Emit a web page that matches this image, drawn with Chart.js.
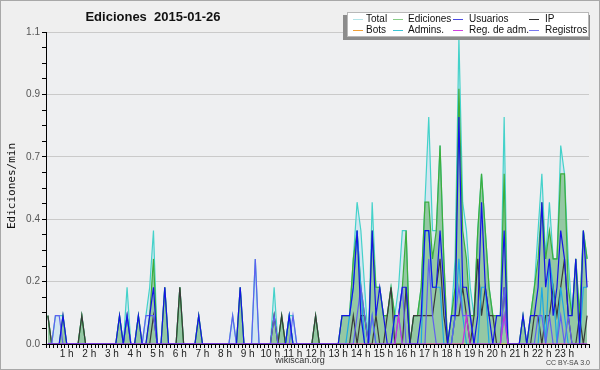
<!DOCTYPE html>
<html><head><meta charset="utf-8">
<script src="https://cdn.jsdelivr.net/npm/chart.js@4.4.1/dist/chart.umd.min.js"></script>
<style>html,body{margin:0;padding:0;background:#f0f0f0;overflow:hidden}</style>
</head><body>
<canvas id="c" width="600" height="370"></canvas>
<script>
// 10-minute bins (144 per day), values in edits/min
const hourLabels = ['1 h','2 h','3 h','4 h','5 h','6 h','7 h','8 h','9 h','10 h','11 h','12 h','13 h','14 h','15 h','16 h','17 h','18 h','19 h','20 h','21 h','22 h','23 h'];
const yTickLabels = ['0.0','0.2','0.4','0.7','0.9','1.1'];

const total = [
 0.1,0,0.1,0.1,0.1,0,0,0,0,0.1,0,0,
 0,0,0,0,0,0,0,0.1,0,0.2,0,0,
 0.1,0,0.1,0.2,0.4,0,0,0.2,0,0,0,0.2,
 0,0,0,0,0.1,0,0,0,0,0,0,0,
 0,0.1,0,0.2,0,0,0,0.3,0,0,0,0,
 0.2,0,0.1,0,0.1,0.1,0,0,0,0,0,0.1,
 0,0,0,0,0,0,0.1,0.1,0.1,0.3,0.5,0.4,
 0.2,0,0.5,0.2,0.2,0.1,0.1,0.2,0.1,0.2,0.4,0.4,
 0,0.1,0.1,0.2,0.5,0.8,0.4,0.4,0.7,0.3,0,0.1,
 0.3,1.08,0.5,0.4,0.2,0.1,0.4,0.6,0.4,0.2,0.1,0.1,
 0.1,0.8,0,0,0,0,0.1,0,0.1,0.2,0.4,0.6,
 0.3,0.5,0.3,0.3,0.7,0.6,0.3,0.1,0.3,0.1,0.4,0.3];
const ediciones = [
 0.1,0,0,0,0.1,0,0,0,0,0.1,0,0,
 0,0,0,0,0,0,0,0.1,0,0.1,0,0,
 0.1,0,0,0.1,0.3,0,0,0.2,0,0,0,0.2,
 0,0,0,0,0.1,0,0,0,0,0,0,0,
 0,0,0,0.2,0,0,0,0,0,0,0,0,
 0.1,0,0.1,0,0.1,0,0,0,0,0,0,0.1,
 0,0,0,0,0,0,0.1,0.1,0.1,0.3,0.4,0.2,
 0.1,0,0.4,0.2,0.2,0.1,0.1,0.2,0.1,0.1,0.2,0.4,
 0,0.1,0.1,0.2,0.5,0.5,0.3,0.4,0.7,0.3,0,0.1,
 0.2,0.9,0.4,0.3,0.1,0.1,0.4,0.6,0.4,0.2,0.1,0.1,
 0.1,0.6,0,0,0,0,0.1,0,0.1,0.2,0.3,0.5,
 0.3,0.4,0.3,0.3,0.6,0.6,0.2,0.1,0.3,0.1,0.4,0.3];
const usuarios = [
 0,0,0,0,0.1,0,0,0,0,0,0,0,
 0,0,0,0,0,0,0,0.1,0,0.1,0,0,
 0.1,0,0,0.1,0.2,0,0,0.2,0,0,0,0,
 0,0,0,0,0.1,0,0,0,0,0,0,0,
 0,0,0,0.2,0,0,0,0,0,0,0,0,
 0,0,0,0,0.1,0,0,0,0,0,0,0,
 0,0,0,0,0,0,0.1,0.1,0.1,0.2,0.4,0.1,
 0,0,0.4,0.1,0.2,0.1,0,0,0.1,0.1,0.2,0.2,
 0,0,0,0.1,0.4,0.4,0.2,0.2,0.4,0.2,0,0.1,
 0.1,0.8,0.2,0.2,0.1,0,0.1,0.5,0.2,0.1,0,0.1,
 0.1,0.4,0,0,0,0,0.1,0,0.1,0.1,0.2,0.5,
 0.2,0.3,0.1,0.2,0.4,0.3,0.1,0.1,0.3,0,0.4,0.2];
const ip = [
 0.1,0,0,0,0,0,0,0,0,0.1,0,0,
 0,0,0,0,0,0,0,0,0,0,0,0,
 0,0,0,0,0.1,0,0,0,0,0,0,0.2,
 0,0,0,0,0,0,0,0,0,0,0,0,
 0,0,0,0,0,0,0,0,0,0,0,0,
 0.1,0,0.1,0,0,0,0,0,0,0,0,0.1,
 0,0,0,0,0,0,0,0,0,0.1,0,0.1,
 0.1,0,0,0.1,0,0,0.1,0.2,0,0,0,0.2,
 0,0.1,0.1,0.1,0.1,0.1,0.1,0.2,0.3,0.1,0,0,
 0.1,0.1,0.2,0.1,0,0.1,0.3,0.1,0.2,0.1,0.1,0,
 0,0.2,0,0,0,0,0,0,0,0.1,0.1,0,
 0.1,0.1,0.2,0.1,0.2,0.3,0.1,0,0,0.1,0,0.1];
const bots = [
 0,0,0,0,0,0,0,0,0,0,0,0, 0,0,0,0,0,0,0,0,0,0,0,0,
 0,0,0,0,0,0,0,0,0,0,0,0, 0,0,0,0,0,0,0,0,0,0,0,0,
 0,0,0,0,0,0,0,0,0,0,0,0, 0,0,0,0,0,0,0,0,0,0,0,0,
 0,0,0,0,0,0,0,0,0,0,0,0, 0,0,0,0,0,0,0,0,0,0,0,0,
 0,0,0,0,0,0,0,0,0,0,0,0, 0,0,0,0,0,0,0,0,0,0,0,0,
 0,0,0,0,0,0,0,0,0,0,0,0, 0,0,0,0,0,0,0,0,0,0,0,0];
const admins = [
 0,0,0,0,0,0,0,0,0,0,0,0, 0,0,0,0,0,0,0,0,0,0,0,0,
 0,0,0,0,0,0,0,0,0,0,0,0, 0,0,0,0,0,0,0,0,0,0,0,0,
 0,0,0,0,0,0,0,0,0,0,0,0,
 0,0,0,0,0.1,0,0,0,0,0,0,0,
 0,0,0,0,0,0,0,0,0.1,0.2,0.4,0.2,
 0,0,0.1,0,0,0,0,0,0.1,0.1,0,0,
 0,0,0,0,0.4,0.4,0.2,0.2,0.2,0,0,0,
 0.1,0.3,0.1,0,0,0,0,0.2,0.2,0,0,0,
 0,0.1,0,0,0,0,0,0,0,0,0,0.2,
 0,0.3,0.2,0,0.2,0.1,0,0,0,0,0.2,0.2];
const regAdm = [
 0,0,0,0,0,0,0,0,0,0,0,0, 0,0,0,0,0,0,0,0,0,0,0,0,
 0,0,0,0,0,0,0,0,0,0,0,0, 0,0,0,0,0,0,0,0,0,0,0,0,
 0,0,0,0,0,0,0,0,0,0,0,0, 0,0,0,0,0,0,0,0,0,0,0,0,
 0,0,0,0,0,0,0,0,0,0,0,0,
 0,0,0,0,0,0,0,0,0,0.1,0,0,
 0,0,0,0,0,0,0,0,0,0,0,0,
 0,0,0,0.1,0,0,0,0,0,0,0,0,
 0,0.1,0,0,0,0,0,0,0,0,0,0,
 0,0,0,0,0,0,0,0,0,0,0,0];
const registros = [
 0,0,0.1,0.1,0,0,0,0,0,0,0,0,
 0,0,0,0,0,0,0,0,0,0.1,0,0,
 0,0,0.1,0.1,0.1,0,0,0,0,0,0,0,
 0,0,0,0,0,0,0,0,0,0,0,0,
 0,0.1,0,0,0,0,0,0.3,0,0,0,0,
 0.1,0,0,0,0,0.1,0,0,0,0,0,0,
 0,0,0,0,0,0,0,0,0,0,0.1,0.2,
 0.1,0,0.1,0,0,0,0,0,0,0.1,0.2,0,
 0,0,0,0,0,0.3,0.1,0,0,0,0,0,
 0.1,0.2,0.1,0.1,0.1,0,0,0,0,0,0,0,
 0,0.2,0,0,0,0,0,0,0,0,0.1,0.1,
 0,0.1,0,0,0.1,0,0.1,0,0,0,0,0];

const legendNames = ['Total','Ediciones','Usuarios','IP','Bots','Admins.','Reg. de adm.','Registros'];
const legendColors = ['#b4e4e8','#88cc88','#4a4ae0','#333333','#f0a038','#3cc4d4','#d040e0','#7878f0'];

const pts = arr => arr.map((v,i)=>({x:i+0.5,y:v}));
function ds(label, arr, color, order, extra){
  return Object.assign({label, data:pts(arr), borderColor:color, borderWidth:1.2, pointRadius:0, tension:0, fill:false, order}, extra||{});
}

const decor = {
  id:'decor',
  beforeDraw(chart){
    const c = chart.ctx, a = chart.chartArea;
    c.save();
    c.fillStyle = '#efefef'; c.fillRect(0,0,600,370);
    c.fillStyle = '#eeeff1'; c.fillRect(a.left,a.top,a.right-a.left,a.bottom-a.top);
    c.strokeStyle = '#a8a8a8'; c.lineWidth = 1; c.strokeRect(0.5,0.5,599,369);
    c.restore();
  },
  afterDraw(chart){
    const c = chart.ctx;
    c.save();
    c.fillStyle = '#111';
    c.font = 'bold 13px "Liberation Sans", Arial, sans-serif';
    c.textAlign = 'center'; c.textBaseline = 'alphabetic';
    c.fillText('Ediciones  2015-01-26', 153, 21);
    // y axis title
    c.save();
    c.translate(12, 186); c.rotate(-Math.PI/2);
    c.font = '11px "DejaVu Sans Mono", monospace';
    c.textBaseline = 'middle';
    c.fillText('Ediciones/min', 0, 0);
    c.restore();
    // footer
    c.font = '9px "Liberation Sans", Arial, sans-serif';
    c.fillStyle = '#333'; c.textBaseline = 'middle';
    c.fillText('wikiscan.org', 300, 361);
    c.font = '7px "Liberation Sans", Arial, sans-serif';
    c.textAlign = 'right'; c.fillStyle = '#444';
    c.fillText('CC BY-SA 3.0', 590, 363);
    // legend
    c.fillStyle = '#8c8c8c'; c.fillRect(343,15,247,25);
    c.fillStyle = '#ffffff'; c.fillRect(347,12,242,25);
    c.strokeStyle = '#b8b8b8'; c.lineWidth = 1; c.strokeRect(347.5,12.5,241,24);
    const lineX = [353,393,453,529], textX = [366,408,469,545], rowY = [19,30];
    c.font = '10px "Liberation Sans", Arial, sans-serif';
    c.textAlign = 'left'; c.textBaseline = 'middle';
    legendNames.forEach((n,k)=>{
      const col = k%4, row = Math.floor(k/4);
      c.strokeStyle = legendColors[k]; c.lineWidth = 1;
      c.beginPath(); c.moveTo(lineX[col], rowY[row]+0.5); c.lineTo(lineX[col]+10, rowY[row]+0.5); c.stroke();
      c.fillStyle = '#111';
      c.fillText(n, textX[col], rowY[row]);
    });
    c.restore();
  }
};

new Chart(document.getElementById('c'), {
  type:'line',
  data:{datasets:[
    ds('Total', total, '#44d2ca', 9, {fill:'origin', backgroundColor:'rgba(190,222,240,0.55)'}),
    ds('Ediciones', ediciones, '#3cae3c', 8, {fill:'origin', backgroundColor:'rgba(70,165,70,0.45)'}),
    ds('Bots', bots, '#f0a038', 7),
    ds('IP', ip, '#3a3a3a', 6),
    ds('Admins.', admins, '#1ea8e2', 5),
    ds('Registros', registros, '#6060f0', 4),
    ds('Usuarios', usuarios, '#1414e6', 3),
    ds('Reg. de adm.', regAdm, '#c830dc', 2)
  ]},
  options:{
    responsive:false, animation:false, devicePixelRatio:1,
    layout:{padding:{left:0, top:32, right:11, bottom:0}},
    plugins:{legend:{display:false}, title:{display:false}, tooltip:{enabled:false}},
    scales:{
      x:{type:'linear', min:0, max:144,
        afterBuildTicks: s => { s.ticks = Array.from({length:145},(_,i)=>({value:i})); },
        afterFit: s => { s.height = 26; },
        ticks:{autoSkip:false, maxRotation:0, minRotation:0, padding:0, labelOffset:-2,
          font:{family:'Liberation Sans', size:10}, color:'#222',
          callback:(v)=> (v%6===0 && v>0 && v<144) ? hourLabels[v/6-1] : ''},
        grid:{drawOnChartArea:false, drawTicks:true, tickLength:4, tickColor:'#000', tickWidth:1},
        border:{display:true, color:'#000', width:1}
      },
      y:{min:0, max:1.1,
        afterBuildTicks: s => { s.ticks = Array.from({length:21},(_,i)=>({value:+(i*0.055).toFixed(3)})); },
        afterFit: s => { s.width = 46; },
        ticks:{autoSkip:false, padding:2, font:{family:'Liberation Sans', size:10}, color:'#555',
          callback:(v,i)=> i%4===0 ? yTickLabels[i/4] : ''},
        grid:{color: ctx => (ctx.index%4===0 && ctx.index>0) ? '#cacaca' : 'rgba(0,0,0,0)', tickColor:'#000', tickLength:4, drawTicks:true},
        border:{display:true, color:'#000', width:1}
      }
    }
  },
  plugins:[decor]
});
</script>
</body></html>
